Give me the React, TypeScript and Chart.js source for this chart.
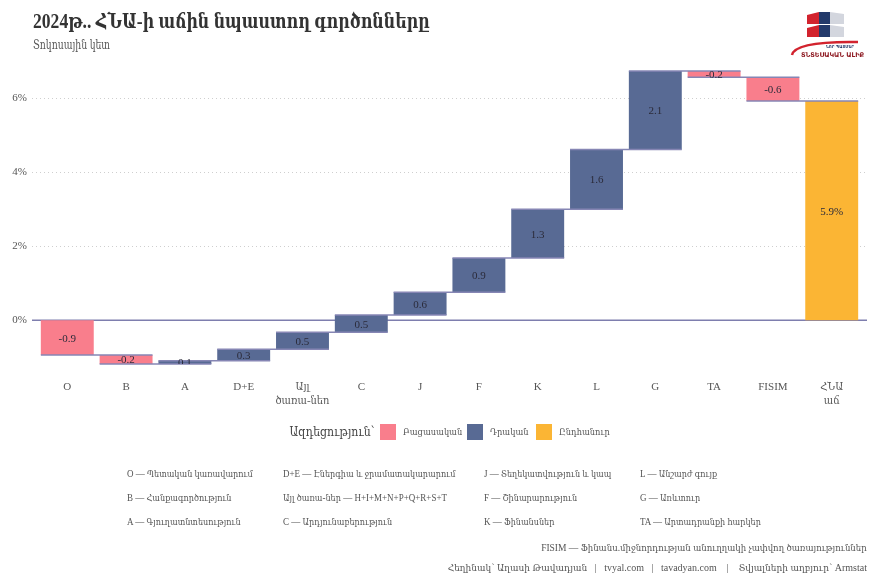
import React, { useEffect, useRef } from "react";
import { Chart, registerables } from "chart.js";

Chart.register(...registerables);

// Contributions to 2024 GDP growth, percentage points
const categories = ["O", "B", "A", "D+E", "Այլ ծառա-ներ", "C", "J", "F", "K", "L", "G", "TA", "FISIM", "ՀՆԱ աճ"];
const tickLabels: string[][] = [
  ["O"], ["B"], ["A"], ["D+E"], ["Այլ", "ծառա-ներ"], ["C"], ["J"], ["F"], ["K"], ["L"], ["G"], ["TA"], ["FISIM"], ["ՀՆԱ", "աճ"],
];
const contributions = [-0.94, -0.24, 0.09, 0.31, 0.46, 0.46, 0.62, 0.92, 1.32, 1.61, 2.12, -0.17, -0.64];
const yTicks = [0, 2, 4, 6];

const legendTitle = "Ազդեցություն՝";
const legendItems = [
  { label: "Բացասական", color: "#F97E8C" },
  { label: "Դրական", color: "#586A94" },
  { label: "Ընդհանուր", color: "#FBB534" },
];
const legendSwatchX = [380, 467, 536];

const footnoteColumns: string[][] = [
  ["O — Պետական կառավարում", "B — Հանքագործություն", "A — Գյուղատնտեսություն"],
  ["D+E — Էներգիա և ջրամատակարարում", "Այլ ծառա-ներ — H+I+M+N+P+Q+R+S+T", "C — Արդյունաբերություն"],
  ["J — Տեղեկատվություն և կապ", "F — Շինարարություն", "K — Ֆինանսներ"],
  ["L — Անշարժ գույք", "G — Առևտուր", "TA — Արտադրանքի հարկեր"],
];
const footnoteX = [127, 283, 484, 640];

const SERIF = "'Liberation Serif', 'DejaVu Serif Condensed', 'DejaVu Serif', serif";
const NEG = legendItems[0].color;
const POS = legendItems[1].color;
const TOT = legendItems[2].color;

// running totals -> floating bar ranges
const ends: number[] = [];
contributions.reduce((acc, v) => {
  const next = acc + v;
  ends.push(next);
  return next;
}, 0);
const total = ends[ends.length - 1];
const ranges: [number, number][] = contributions.map((v, i) => [i === 0 ? 0 : ends[i - 1], ends[i]]);
ranges.push([0, total]);
const barValues = [...contributions, total];
const barColors = barValues.map((v, i) => (i === barValues.length - 1 ? TOT : v < 0 ? NEG : POS));
const yMin = Math.min(0, ...ends);
const yMax = Math.max(...ends);

const decorPlugin = {
  id: "waterfallDecor",
  beforeDatasetsDraw(chart: any) {
    const { ctx, chartArea } = chart;
    const y = chart.scales.y;
    ctx.save();
    ctx.lineWidth = 1;
    ctx.strokeStyle = "#cfcfcf";
    ctx.setLineDash([1, 3]);
    yTicks.filter((t) => t !== 0).forEach((t) => {
      const py = Math.round(y.getPixelForValue(t)) + 0.5;
      ctx.beginPath();
      ctx.moveTo(chartArea.left, py);
      ctx.lineTo(chartArea.right, py);
      ctx.stroke();
    });
    ctx.setLineDash([]);
    ctx.strokeStyle = "#7E7EAE";
    ctx.lineWidth = 1.5;
    const zy = y.getPixelForValue(0);
    ctx.beginPath();
    ctx.moveTo(chartArea.left, zy);
    ctx.lineTo(chartArea.right, zy);
    ctx.stroke();
    ctx.restore();
  },
  afterDatasetsDraw(chart: any) {
    const { ctx, chartArea } = chart;
    const y = chart.scales.y;
    const bars = chart.getDatasetMeta(0).data;
    ctx.save();
    // connectors between consecutive bars
    ctx.strokeStyle = "#8686B4";
    ctx.lineWidth = 1.5;
    for (let i = 0; i < ends.length; i++) {
      const a = bars[i];
      const b = bars[i + 1];
      const py = y.getPixelForValue(ends[i]);
      ctx.beginPath();
      ctx.moveTo(a.x - a.width / 2, py);
      ctx.lineTo(b.x + b.width / 2, py);
      ctx.stroke();
    }
    // value labels
    ctx.beginPath();
    ctx.rect(chartArea.left, chartArea.top, chartArea.right - chartArea.left, chartArea.bottom - chartArea.top);
    ctx.clip();
    ctx.fillStyle = "#2b2b3a";
    ctx.font = `11px ${SERIF}`;
    ctx.textAlign = "center";
    ctx.textBaseline = "middle";
    bars.forEach((bar: any, i: number) => {
      const v = barValues[i];
      const txt = i === barValues.length - 1 ? `${v.toFixed(1)}%` : v.toFixed(1);
      ctx.fillText(txt, bar.x, (bar.y + bar.base) / 2 + 1);
    });
    ctx.restore();
  },
  afterDraw(chart: any) {
    const ctx = chart.ctx;
    ctx.save();
    // emblem: two rows of coloured blocks
    const rows = [12, 25];
    rows.forEach((ry) => {
      ctx.fillStyle = "#D2232E";
      ctx.beginPath();
      ctx.moveTo(807, ry + 3);
      ctx.lineTo(819, ry);
      ctx.lineTo(819, ry + 12);
      ctx.lineTo(807, ry + 12);
      ctx.closePath();
      ctx.fill();
      ctx.fillStyle = "#233A6B";
      ctx.fillRect(819, ry, 11, 12);
      ctx.fillStyle = "#D3D6DE";
      ctx.beginPath();
      ctx.moveTo(830, ry);
      ctx.lineTo(844, ry + 2);
      ctx.lineTo(844, ry + 12);
      ctx.lineTo(830, ry + 12);
      ctx.closePath();
      ctx.fill();
    });
    ctx.strokeStyle = "#D2232E";
    ctx.lineWidth = 2.5;
    ctx.beginPath();
    ctx.moveTo(792, 55);
    ctx.quadraticCurveTo(795, 41, 858, 42);
    ctx.stroke();
    ctx.fillStyle = "#233A6B";
    ctx.font = `bold 4px 'DejaVu Sans', sans-serif`;
    ctx.textAlign = "left";
    ctx.textBaseline = "alphabetic";
    ctx.fillText("ՆՈՐ ՊԱՏՄԵՐ", 826, 48);
    ctx.fillStyle = "#8E1A22";
    ctx.font = `bold 6.5px 'DejaVu Sans', sans-serif`;
    ctx.fillText("ՏՆՏԵՍԱԿԱՆ ԱԼԻՔ", 801, 57);
    ctx.restore();
  },
};

export default function App() {
  const canvasRef = useRef<HTMLCanvasElement | null>(null);

  useEffect(() => {
    document.body.style.margin = "0";
    document.body.style.background = "#ffffff";
    const canvas = canvasRef.current;
    if (!canvas) return;
    const chart = new Chart(canvas, {
      type: "bar",
      data: {
        datasets: [
          {
            data: ranges.map((r, i) => ({ x: i, y: r })) as any,
            backgroundColor: barColors,
            borderWidth: 0,
            barPercentage: 0.9,
            categoryPercentage: 1,
          },
        ],
      },
      options: {
        animation: false,
        responsive: false,
        maintainAspectRatio: false,
        layout: { padding: { left: 0, right: 15, top: 71, bottom: 184 } },
        plugins: { legend: { display: false }, tooltip: { enabled: false } },
        scales: {
          x: {
            type: "linear",
            offset: false,
            min: -0.6,
            max: categories.length - 1 + 0.6,
            grid: { display: false, drawTicks: false },
            border: { display: false },
            afterBuildTicks: (scale: any) => {
              scale.ticks = categories.map((_, i) => ({ value: i }));
            },
            afterFit: (scale: any) => {
              scale.height = 40;
            },
            ticks: {
              autoSkip: false,
              maxRotation: 0,
              padding: 17,
              color: "#555555",
              font: { family: SERIF, size: 11 },
              callback: (value: any) => tickLabels[value as number],
            },
          },
          y: {
            type: "linear",
            min: yMin,
            max: yMax,
            grid: { display: false, drawTicks: false },
            border: { display: false },
            afterBuildTicks: (scale: any) => {
              scale.ticks = yTicks.map((v) => ({ value: v }));
            },
            afterFit: (scale: any) => {
              scale.width = 32;
            },
            ticks: {
              padding: 5,
              color: "#555555",
              font: { family: SERIF, size: 11 },
              callback: (value: any) => `${value}%`,
            },
          },
        },
      },
      plugins: [decorPlugin],
    });
    return () => chart.destroy();
  }, []);

  // absolutely placed text, narrowed horizontally to the serif proportions of the layout
  const text = (
    style: React.CSSProperties,
    content: React.ReactNode,
    squeeze: number,
    anchor: "left" | "right" = "left",
    key?: string | number
  ) => (
    <div
      key={key}
      style={{
        position: "absolute",
        whiteSpace: "nowrap",
        fontFamily: SERIF,
        transform: `scaleX(${squeeze})`,
        transformOrigin: `${anchor} center`,
        ...style,
      }}
    >
      {content}
    </div>
  );

  return (
    <div style={{ position: "relative", width: 882, height: 588, background: "#fff", overflow: "hidden" }}>
      <canvas ref={canvasRef} width={882} height={588} style={{ position: "absolute", left: 0, top: 0 }} />
      {text({ left: 33, top: 9, fontSize: 20, lineHeight: "24px", fontWeight: "bold", color: "#333" }, "2024թ.. ՀՆԱ-ի աճին նպաստող գործոնները", 0.88)}
      {text({ left: 33, top: 37, fontSize: 12, lineHeight: "16px", color: "#555" }, "Տոկոսային կետ", 0.86)}

      {text({ right: 882 - 375, top: 424, fontSize: 13, lineHeight: "16px", color: "#444" }, legendTitle, 0.93, "right")}
      {legendItems.map((it, i) => (
        <React.Fragment key={it.label}>
          <div style={{ position: "absolute", left: legendSwatchX[i], top: 424, width: 16, height: 16, background: it.color }} />
          {text({ left: legendSwatchX[i] + 23, top: 425, fontSize: 10, lineHeight: "14px", color: "#555" }, it.label, 0.92)}
        </React.Fragment>
      ))}

      {footnoteColumns.map((col, ci) =>
        col.map((line, ri) =>
          text({ left: footnoteX[ci], top: 467 + ri * 24, fontSize: 10, lineHeight: "14px", color: "#555" }, line, 0.9, "left", `${ci}-${ri}`)
        )
      )}
      {text({ right: 15, top: 541, fontSize: 10, lineHeight: "14px", color: "#555" }, "FISIM — Ֆինանս.միջնորդության անուղղակի չափվող ծառայություններ", 0.95, "right")}
      {text({ right: 15, top: 561, fontSize: 10, lineHeight: "14px", color: "#555" }, (
        <span>
          Հեղինակ՝ Աղասի Թավադյան&nbsp;&nbsp;&nbsp;|&nbsp;&nbsp;&nbsp;tvyal.com&nbsp;&nbsp;&nbsp;|&nbsp;&nbsp;&nbsp;tavadyan.com&nbsp;&nbsp;&nbsp;&nbsp;|&nbsp;&nbsp;&nbsp;&nbsp;Տվյալների աղբյուր՝ Armstat
        </span>
      ), 1, "right")}
    </div>
  );
}
